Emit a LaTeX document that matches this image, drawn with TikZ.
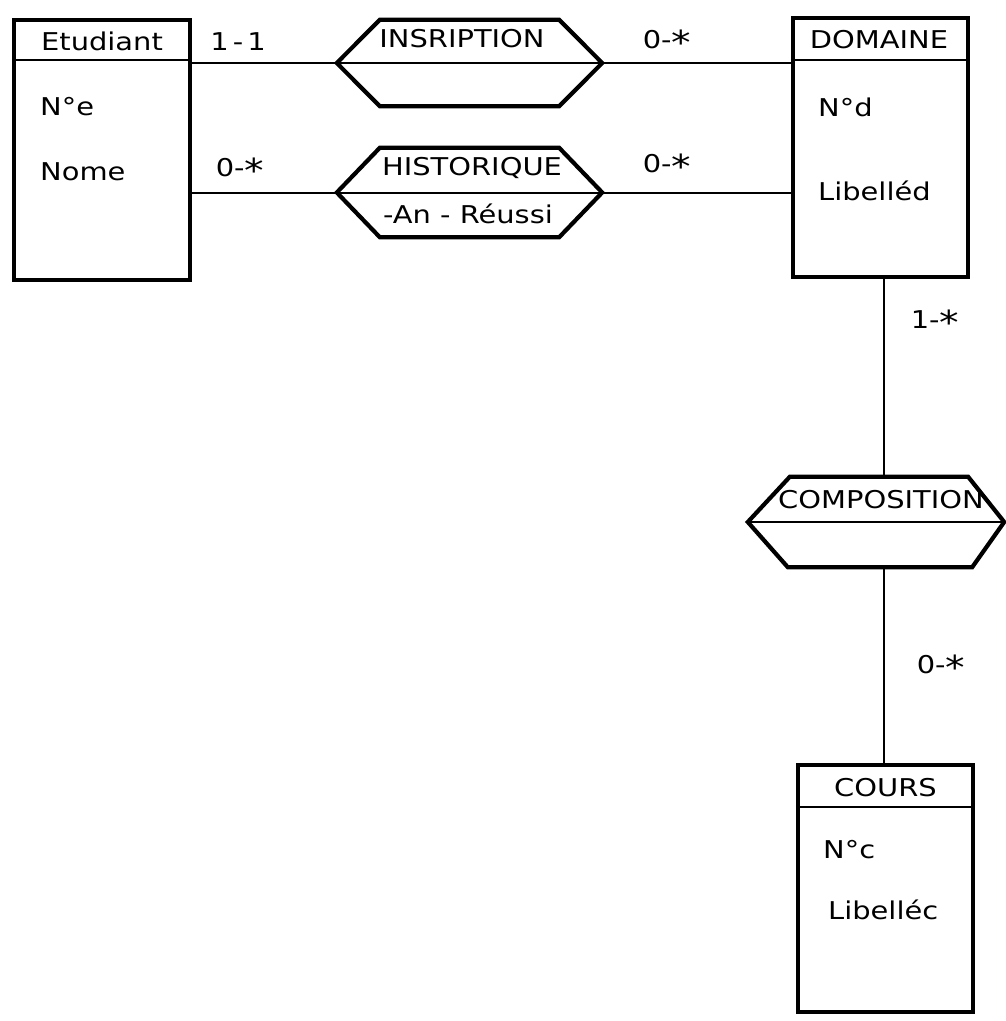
\documentclass[tikz,border=0pt]{standalone}
\usepackage{fontspec}
\setmainfont{DejaVu Sans}[FakeStretch=1.18]
\usetikzlibrary{calc}
\newcommand{\astk}{\raisebox{-0.45ex}{\scalebox{1.35}{*}}}
\begin{document}
\begin{tikzpicture}[x=1pt,y=-1pt,
  entity/.style={draw, rectangle, line width=4.2pt, inner sep=0pt},
  rel/.style={rectangle, inner sep=0pt},
  hexline/.style={line width=4.2pt, line join=miter},
  sep/.style={line width=2pt},
  conn/.style={line width=2pt},
  txt/.style={inner sep=0pt, font=\fontsize{24.5}{26}\selectfont},
  attr/.style={txt, anchor=west},
  card/.style={txt}]
\useasboundingbox (0,0) rectangle (1006,1021);

% Entities
\node[entity, minimum width=176pt, minimum height=260pt] (etu) at (102,150) {};
\draw[sep] ($(etu.north west)+(0,42)$) -- ($(etu.north east)+(0,42)$);
\node[txt] (etuT) at (102,41) {Etudiant};
\node[attr] (etuA) at (40,107) {N°e};
\node[attr] (etuB) at (40,172) {Nome};

\node[entity, minimum width=175pt, minimum height=259pt] (dom) at (880.5,147.5) {};
\draw[sep] ($(dom.north west)+(0,44)$) -- ($(dom.north east)+(0,44)$);
\node[txt] (domT) at (879,40) {DOMAINE};
\node[attr] (domA) at (818,107) {N°d};
\node[attr] (domB) at (818,191) {Libelléd};

\node[entity, minimum width=175pt, minimum height=247pt] (cou) at (885.5,888.5) {};
\draw[sep] ($(cou.north west)+(0,44)$) -- ($(cou.north east)+(0,44)$);
\node[txt] (couT) at (885.5,788) {COURS};
\node[attr] (couA) at (823,850) {N°c};
\node[attr] (couB) at (828,910) {Libelléc};

% Relationships
\node[rel, minimum width=265pt, minimum height=86pt] (ins) at (469.5,63) {};
\draw[hexline] (ins.west) -- ($(ins.north west)+(43,0)$) -- ($(ins.north east)+(-43,0)$)
  -- (ins.east) -- ($(ins.south east)+(-43,0)$) -- ($(ins.south west)+(43,0)$) -- cycle;
\draw[sep] (ins.west) -- (ins.east);
\node[txt] (insT) at (462,39) {INSRIPTION};

\node[rel, minimum width=265pt, minimum height=89pt] (his) at (469.5,192.5) {};
\draw[hexline] (his.west) -- ($(his.north west)+(43,0)$) -- ($(his.north east)+(-43,0)$)
  -- (his.east) -- ($(his.south east)+(-43,0)$) -- ($(his.south west)+(43,0)$) -- cycle;
\draw[sep] (his.west) -- (his.east);
\node[txt] (hisT) at (472,168) {HISTORIQUE};
\node[txt] (hisA) at (468,214) {-An - Réussi};

\node[rel, minimum width=256pt, minimum height=90pt] (com) at (876,522) {};
\draw[hexline] (com.west) -- ($(com.north west)+(42,0)$) -- ($(com.north east)+(-36,0)$)
  -- (com.east) -- ($(com.south east)+(-32,0)$) -- ($(com.south west)+(40,0)$) -- cycle;
\draw[sep] (com.west) -- (com.east);
\node[txt] (comT) at (881,500) {COMPOSITION};

% Connectors
\draw[conn] (etu.east |- ins.west) -- (ins.west);
\draw[conn] (ins.east) -- (dom.west |- ins.east);
\draw[conn] (etu.east |- his.west) -- (his.west);
\draw[conn] (his.east) -- (dom.west |- his.east);
\coordinate (vx) at (884,0);
\draw[conn] (vx |- dom.south) -- (vx |- com.north);
\draw[conn] (vx |- com.south) -- (vx |- cou.north);

% Cardinalities
\node[card] (c1) at (238,42) {1\,-\,1};
\node[card] (c2) at (667,42) {0-\astk};
\node[card] (c3) at (240,170) {0-\astk};
\node[card] (c4) at (667,166) {0-\astk};
\node[card] (c5) at (935,322) {1-\astk};
\node[card] (c6) at (941,667) {0-\astk};
\end{tikzpicture}
\end{document}
